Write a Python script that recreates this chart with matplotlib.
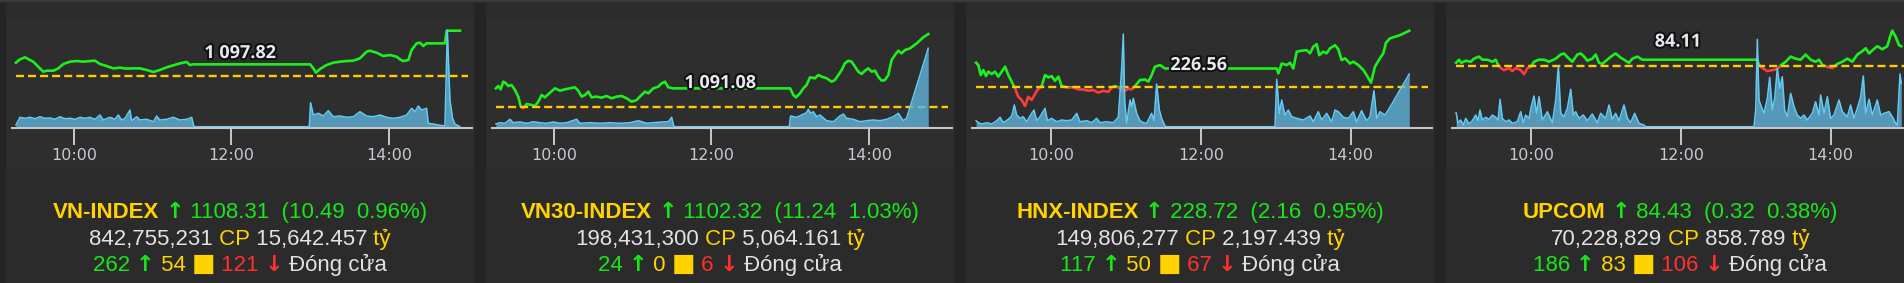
import matplotlib
matplotlib.use("Agg")
import matplotlib.pyplot as plt
import matplotlib.patheffects as pe
from matplotlib.patches import Rectangle
from matplotlib.transforms import IdentityTransform

W, H = 1904, 283
PANEL_W = 480

GAP_BG = '#242424'
CARD_BG = '#2b2b2b'
PLOT_BG = '#2e2e2e'
GOLD = '#ffd200'
GREEN = '#19e619'
RED = '#ff3030'
LIGHT = '#e2e2e2'
LINE_GREEN = '#1df01d'
LINE_RED = '#ff3a3a'
REF_YELLOW = '#ffcc00'
VOL_FILL = '#5fb3da'
VOL_LINE = '#62cbf5'
AXIS_GREY = '#c4c4cc'
TICK_TXT = '#c8c8d2'

# ---- data: times are minutes after 09:00 ----
names = ['VN-INDEX', 'VN30-INDEX', 'HNX-INDEX', 'UPCOM']
refs = [1097.82, 1091.08, 226.56, 84.11]
closes = ['1108.31', '1102.32', '228.72', '84.43']
changes = ['10.49', '11.24', '2.16', '0.32']
pcts = ['0.96%', '1.03%', '0.95%', '0.38%']
shares = ['842,755,231', '198,431,300', '149,806,277', '70,228,829']
values_bn = ['15,642.457', '5,064.161', '2,197.439', '858.789']
advances = ['262', '24', '117', '186']
unchanged = ['54', '0', '50', '83']
declines = ['121', '6', '67', '106']

vni_t = [15.8, 18.9, 22.7, 26.5, 29.0, 32.8, 36.6, 39.2, 44.3, 48.1, 51.9, 57.0, 62.0, 67.1,
         72.2, 76.0, 79.8, 84.9, 90.0, 95.1, 100.1, 105.2, 110.3, 115.4, 120.5, 125.5, 130.6,
         135.7, 140.8, 145.9, 148.4, 150.9, 240.0, 242.4, 244.4, 247.5, 252.5, 257.6, 262.7,
         267.8, 272.9, 277.9, 283.0, 285.6, 290.6, 295.7, 300.8, 305.9, 308.4, 311.0, 314.8,
         317.3, 321.1, 323.7, 326.2, 328.7, 342.7, 344.0, 354.1]
vni_v = [1100.91, 1101.68, 1102.14, 1101.52, 1101.14, 1099.98, 1098.82, 1099.05, 1099.05,
         1099.59, 1100.60, 1101.14, 1101.29, 1101.14, 1101.29, 1101.37, 1100.60, 1100.13,
         1099.59, 1099.75, 1099.52, 1099.59, 1099.59, 1099.21, 1098.75, 1099.21, 1099.83,
         1100.29, 1100.75, 1101.06, 1100.37, 1100.52, 1100.52, 1099.59, 1098.59, 1099.44,
         1100.37, 1100.91, 1101.14, 1101.29, 1101.37, 1101.91, 1103.45, 1103.68, 1103.22,
         1102.45, 1102.68, 1102.29, 1101.68, 1101.29, 1101.52, 1103.84, 1105.38, 1105.53,
         1104.76, 1105.38, 1105.38, 1108.31, 1108.31]
vni_vol_t = [15.8, 18.9, 22.7, 26.5, 30.3, 34.1, 37.9, 41.7, 45.5, 49.3, 53.1, 57.0, 60.8, 64.6,
             68.4, 72.2, 76.0, 79.8, 82.4, 87.4, 91.2, 93.8, 96.3, 98.9, 102.7, 103.9, 107.8,
             110.3, 115.4, 120.5, 123.0, 125.5, 130.6, 135.7, 140.8, 145.9, 149.7, 151.4, 239.3,
             240.3, 242.4, 246.2, 250.0, 253.8, 257.6, 262.7, 267.8, 272.9, 277.9, 283.0, 288.1,
             293.2, 298.3, 303.3, 308.4, 313.5, 317.3, 319.8, 322.4, 324.9, 328.7, 330.0, 333.8,
             338.9, 342.7, 344.5, 346.5, 348.5, 350.3, 354.1]
vni_vol = [3, 10.7, 9.7, 10.7, 9.3, 11.3, 9.7, 10, 8.7, 11.3, 9.3, 9.7, 8.7, 10.7, 9.7, 10.7,
           8.7, 13, 8, 10.7, 8.7, 13, 8, 9.7, 18, 7.3, 11.3, 8, 8.7, 6.3, 12, 8, 8.7, 10.7, 8,
           8.7, 10.7, 1.3, 1.3, 25.3, 13, 14.7, 12, 17.3, 11.3, 12, 10.7, 11.3, 16.3, 12, 11.3,
           13, 10.7, 9.7, 10.7, 13, 19.7, 16.3, 22, 18, 19.7, 4.7, 4, 2.7, 2, 98, 28, 9.7, 4, 1.3]

vn30_t = [15.8, 17.6, 19.4, 21.4, 23.4, 25.2, 27.7, 30.3, 32.8, 34.6, 36.6, 39.2, 43.0, 45.5,
          48.1, 50.6, 53.1, 57.0, 60.8, 64.6, 68.4, 72.2, 76.0, 78.5, 81.1, 83.6, 86.2, 88.7,
          92.5, 96.3, 100.1, 103.9, 107.8, 111.6, 115.4, 119.2, 123.0, 125.5, 129.3, 131.9,
          135.7, 139.5, 142.0, 144.6, 147.1, 150.9, 240.0, 242.4, 244.4, 247.5, 250.0, 252.5,
          255.1, 258.9, 261.4, 264.0, 267.8, 271.6, 274.1, 276.7, 279.2, 281.7, 284.3, 286.8,
          289.4, 291.9, 294.4, 297.0, 299.5, 302.1, 304.6, 307.1, 309.7, 312.2, 314.8, 317.3,
          319.8, 322.4, 324.9, 327.5, 331.3, 336.4, 341.4, 345.2]
vn30_v = [1093.99, 1094.35, 1093.84, 1095.01, 1094.76, 1094.35, 1094.50, 1093.74, 1092.72,
          1091.28, 1090.93, 1091.59, 1091.44, 1091.28, 1091.95, 1092.97, 1092.61, 1093.33,
          1093.99, 1093.63, 1093.84, 1093.99, 1094.15, 1093.63, 1092.72, 1092.97, 1093.48,
          1092.61, 1092.72, 1092.56, 1092.82, 1092.46, 1092.72, 1092.82, 1092.46, 1091.95,
          1092.20, 1092.72, 1093.48, 1093.23, 1093.99, 1094.25, 1094.76, 1095.01, 1094.15,
          1093.99, 1093.99, 1092.97, 1092.61, 1093.23, 1093.99, 1094.50, 1095.68, 1095.53,
          1096.04, 1095.78, 1095.53, 1095.01, 1095.27, 1096.04, 1096.80, 1097.83, 1098.23,
          1098.08, 1097.31, 1096.55, 1096.19, 1096.70, 1097.06, 1096.55, 1096.70, 1095.78,
          1095.17, 1095.27, 1096.04, 1098.34, 1099.10, 1099.77, 1099.36, 1099.87, 1100.12,
          1100.89, 1101.81, 1102.32]
vn30_vol_t = [15.8, 18.9, 22.7, 26.5, 29.0, 34.1, 39.2, 44.3, 49.3, 54.4, 59.5, 64.6, 69.7,
              77.3, 79.8, 87.4, 95.1, 102.7, 110.3, 117.9, 124.3, 130.6, 135.7, 142.0, 147.1,
              149.7, 151.4, 239.3, 240.3, 244.9, 248.7, 252.5, 253.8, 255.6, 257.6, 260.2,
              262.7, 267.8, 272.9, 277.9, 280.5, 283.0, 288.1, 293.2, 298.3, 303.3, 308.4,
              313.5, 318.6, 322.4, 326.2, 328.7, 345.2]
vn30_vol = [4, 5.3, 4.7, 8.7, 5.3, 6, 4.7, 6.3, 5.3, 4.7, 6, 4.7, 5.3, 8.7, 4.7, 5.3, 4.7, 5.3,
            4.7, 5.3, 7.3, 4.7, 5.3, 6, 6.3, 10.7, 1.3, 1.3, 12, 10.7, 13, 15.3, 18.7, 14.7,
            16.3, 11.3, 13, 7.3, 6.3, 12, 14, 9.7, 8.7, 6.3, 7.3, 8, 7.3, 8.7, 11.3, 14.7, 7.3,
            9.7, 79.7]

hnx_t = [0.0, 1.8, 3.7, 5.8, 7.9, 9.8, 12.5, 15.1, 17.8, 20.5, 23.2, 25.8, 28.5, 31.2, 33.8,
         36.5, 39.2, 41.8, 44.5, 47.2, 49.1, 52.5, 55.2, 57.9, 60.5, 63.2, 65.9, 68.5, 72.5,
         77.9, 81.9, 85.9, 89.9, 93.9, 97.9, 101.9, 105.9, 108.6, 111.3, 113.9, 116.6, 119.3,
         121.9, 124.6, 127.3, 131.3, 135.3, 138.0, 140.6, 143.3, 147.3, 151.3, 155.3, 240.8,
         242.1, 244.8, 248.8, 251.4, 254.1, 256.8, 260.8, 264.8, 267.5, 270.1, 272.8, 274.9,
         278.1, 280.8, 283.5, 287.5, 290.2, 292.8, 295.5, 299.5, 302.2, 306.2, 310.2, 312.8,
         316.3, 319.5, 323.5, 326.2, 328.3, 331.5, 339.5, 347.0]
hnx_v = [227.50, 227.41, 227.03, 227.22, 226.99, 227.16, 227.07, 227.16, 226.97, 227.16,
         227.35, 227.03, 226.78, 226.52, 226.20, 226.08, 225.85, 226.20, 226.08, 226.31,
         226.46, 226.61, 227.03, 226.94, 226.99, 226.81, 226.97, 226.61, 226.56, 226.56,
         226.48, 226.48, 226.43, 226.46, 226.36, 226.43, 226.39, 226.56, 226.61, 226.56,
         226.46, 226.43, 226.51, 226.48, 226.61, 226.84, 226.86, 226.78, 227.03, 227.35,
         227.41, 227.28, 227.28, 227.28, 227.09, 227.47, 227.41, 227.50, 227.28, 227.92,
         227.96, 227.98, 227.86, 228.11, 228.21, 227.79, 227.92, 227.86, 228.05, 228.17,
         228.01, 227.60, 227.67, 227.47, 227.54, 227.41, 227.22, 227.03, 226.74, 227.35,
         227.67, 227.86, 228.26, 228.43, 228.55, 228.72]
hnx_vol_t = [0.0, 1.8, 4.5, 8.5, 12.5, 16.5, 19.2, 21.8, 25.8, 28.5, 30.6, 32.5, 35.2, 37.8,
             40.5, 44.5, 46.4, 48.5, 51.2, 55.2, 57.1, 60.5, 64.5, 68.5, 72.5, 76.6, 80.6, 83.2,
             88.6, 92.6, 96.6, 99.2, 104.6, 109.9, 113.9, 116.6, 117.9, 119.0, 120.6, 123.3,
             124.6, 125.9, 128.6, 131.3, 134.0, 136.6, 140.6, 142.5, 144.6, 146.8, 148.6, 151.3,
             152.6, 239.4, 240.8, 242.9, 244.8, 247.4, 250.1, 252.8, 256.8, 262.1, 267.5, 270.1,
             274.1, 276.8, 280.8, 284.8, 287.5, 290.2, 294.2, 298.2, 302.2, 304.8, 308.8, 312.8,
             315.5, 318.7, 320.9, 323.5, 327.5, 330.2, 347.0]
hnx_vol = [7.3, 5.3, 4, 5.3, 4, 7.3, 10.7, 5.3, 8.7, 12, 23, 13, 9.7, 11.3, 6.3, 14.7, 18, 7.3,
           11.3, 19.7, 7.3, 9.7, 6.3, 8, 7.3, 8, 14.7, 6.3, 7.3, 5.3, 9.7, 5.3, 6.3, 5.3, 10.7,
           59.7, 94, 28, 4.7, 28, 21.3, 29.7, 14.7, 7.3, 5.3, 4.7, 14.7, 7.3, 44, 18, 9.7, 2,
           1.3, 1.3, 48.7, 14.7, 28, 13, 18, 11.3, 9.7, 8, 12, 6.3, 16.3, 8, 14.7, 6.3, 18,
           16.3, 10.7, 9.7, 16.3, 6.3, 17.3, 7.3, 11.3, 37.3, 9.7, 16.3, 13, 18, 54]

upc_t = [0.0, 2.3, 4.2, 7.7, 11.7, 14.3, 18.3, 21.0, 25.0, 29.0, 31.7, 33.6, 35.7, 38.4, 42.4,
         45.0, 47.7, 51.7, 54.4, 57.1, 59.7, 62.4, 66.4, 70.4, 74.4, 79.8, 83.8, 86.4, 90.4,
         93.1, 97.1, 99.8, 102.5, 105.1, 109.1, 111.8, 114.5, 117.1, 121.1, 125.1, 127.8,
         131.8, 134.5, 138.5, 141.2, 145.2, 149.2, 151.8, 241.3, 242.6, 245.3, 249.3, 253.3,
         257.3, 260.5, 264.0, 268.0, 272.0, 276.0, 280.0, 284.0, 288.0, 290.7, 293.4, 297.4,
         301.4, 305.4, 309.4, 313.4, 317.4, 321.4, 324.1, 328.1, 330.8, 333.4, 337.4, 341.4,
         345.4, 348.1, 349.4, 352.1, 354.8, 356.6]
upc_v = [84.14, 84.17, 84.14, 84.16, 84.15, 84.18, 84.20, 84.17, 84.17, 84.15, 84.17, 84.12,
         84.09, 84.07, 84.09, 84.06, 84.09, 84.07, 84.03, 84.09, 84.10, 84.15, 84.17, 84.17,
         84.15, 84.18, 84.22, 84.23, 84.18, 84.15, 84.22, 84.23, 84.20, 84.16, 84.18, 84.22,
         84.14, 84.13, 84.17, 84.21, 84.23, 84.19, 84.17, 84.14, 84.18, 84.20, 84.17, 84.17,
         84.17, 84.12, 84.09, 84.06, 84.07, 84.08, 84.12, 84.15, 84.20, 84.18, 84.17, 84.22,
         84.17, 84.15, 84.17, 84.12, 84.10, 84.09, 84.13, 84.15, 84.18, 84.15, 84.22, 84.24,
         84.28, 84.23, 84.26, 84.30, 84.27, 84.30, 84.41, 84.45, 84.39, 84.31, 84.30]
upc_vol_t = [0.0, 1.5, 3.7, 5.8, 7.7, 10.3, 13.0, 15.7, 17.5, 19.1, 21.0, 23.7, 26.4, 29.0,
             31.7, 33.6, 35.2, 37.0, 39.7, 42.4, 45.0, 49.0, 51.7, 53.9, 55.7, 58.4, 60.3, 62.4,
             64.5, 66.4, 69.1, 73.1, 77.1, 79.8, 81.9, 83.8, 86.4, 89.1, 91.8, 93.9, 95.8, 98.4,
             101.9, 105.1, 109.1, 113.1, 115.8, 119.8, 122.5, 125.1, 127.8, 130.5, 134.5, 137.2,
             139.8, 143.0, 146.5, 150.5, 151.8, 238.6, 240.0, 241.3, 242.6, 244.5, 246.6, 249.3,
             251.2, 253.3, 255.2, 257.3, 259.4, 261.3, 263.2, 265.3, 268.0, 270.7, 273.3, 276.0,
             278.7, 281.3, 285.3, 288.0, 290.7, 292.0, 294.7, 297.4, 300.0, 302.7, 306.7, 309.4,
             313.4, 316.0, 318.7, 321.4, 324.1, 326.2, 328.1, 330.8, 333.4, 337.4, 340.1, 342.8,
             346.8, 349.4, 352.1, 353.4, 355.6, 356.6]
upc_vol = [15.3, 5.3, 8, 3, 9.7, 4, 7.3, 13, 7.3, 18, 8, 10.7, 8.7, 13, 10.7, 8, 28.7, 9.7, 6.3,
           8, 4.7, 6.3, 16.3, 5.3, 13, 9.7, 22, 32, 14.7, 31.3, 8, 16.3, 5.3, 28, 62, 14.7, 11.3,
           19.7, 38.7, 13, 16.3, 9.7, 13, 7.3, 14, 5.3, 14.7, 9.7, 23, 8.7, 14.7, 7.3, 23, 9.7,
           5.3, 14.7, 4.7, 3, 1.3, 1.3, 18, 88.7, 28, 21.3, 14.7, 29.7, 50.7, 18, 29.7, 59.7,
           39.7, 51.3, 18, 11.3, 34.7, 21.3, 13, 9.7, 13, 8, 14.7, 26.3, 13, 33, 14.7, 31.3,
           9.7, 13, 28, 16.3, 11.3, 23, 9.7, 19.7, 31.3, 52, 14.7, 28.7, 13, 28, 13, 14.7, 16.3,
           11.3, 4.7, 3, 54, 44.7]

series = [(vni_t, vni_v, vni_vol_t, vni_vol),
          (vn30_t, vn30_v, vn30_vol_t, vn30_vol),
          (hnx_t, hnx_v, hnx_vol_t, hnx_vol),
          (upc_t, upc_v, upc_vol_t, upc_vol)]

# ---- layout per panel ----
xlims = [(12.8, 363.3), (12.8, 363.3), (-3.3, 365.2), (-3.3, 365.2)]
ylims = [(1085.78, 1110.79), (1087.91, 1104.47), (225.01, 229.13), (83.513, 84.552)]
label_pos = [(0.496, 0.694), (0.496, 0.417), (0.493, 0.583), (0.491, 0.80)]

TEXT_FONT = ['Liberation Sans', 'DejaVu Sans']
SYM_FONT = ['DejaVu Sans']

fig = plt.figure(figsize=(W / 100, H / 100), dpi=100)
fig.patch.set_facecolor(GAP_BG)


def draw_rich(renderer, cx, baseline, pieces, size=16):
    # pieces drawn side by side, whole line centred on cx (pixels)
    texts = []
    for p in pieces:
        s, color, bold = p[:3]
        fam = p[3] if len(p) > 3 else TEXT_FONT
        scale = p[4] if len(p) > 4 else 1.0
        t = fig.text(0, 0, s, color=color, fontsize=size * scale, family=fam,
                     fontweight='bold' if bold else 'normal',
                     transform=IdentityTransform(), va='baseline', ha='left')
        texts.append(t)
    widths = [t.get_window_extent(renderer).width for t in texts]
    x = cx - sum(widths) / 2
    for t, w in zip(texts, widths):
        t.set_position((x, H - baseline))
        x += w


renderer = fig.canvas.get_renderer()

for i, (t, v, vt, vol) in enumerate(series):
    o = i * PANEL_W
    ref = refs[i]
    xl, yl = xlims[i], ylims[i]

    fig.add_artist(Rectangle(((o + 6) / W, 0), 467 / W, 1, transform=fig.transFigure,
                             color=CARD_BG, zorder=-2))
    fig.add_artist(Rectangle(((o + 7) / W, (H - 168) / H), 466 / W, 150 / H,
                             transform=fig.transFigure, color=PLOT_BG, zorder=-1))

    ax = fig.add_axes([(o + 12) / W, (H - 128) / H, 460 / W, 108 / H])
    ax.set_facecolor('none')
    ax.set_xlim(*xl)
    ax.set_ylim(*yl)
    for s in ax.spines.values():
        s.set_visible(False)

    # index line: green above the reference, red below
    for color, y0, y1 in [(LINE_GREEN, ref, yl[1]), (LINE_RED, yl[0], ref)]:
        ln, = ax.plot(t, v, color=color, lw=1.9, solid_joinstyle='round', zorder=3)
        ln.set_clip_path(Rectangle((xl[0], y0), xl[1] - xl[0], y1 - y0,
                                   transform=ax.transData))

    ax.axhline(ref, xmin=0.009, xmax=0.991, color=REF_YELLOW, lw=1.7,
               dashes=(3.4, 1.7), zorder=4)

    # volume on top
    ax2 = ax.twinx()
    ax2.set_ylim(0, 108)
    ax2.set_yticks([])
    for k, s in ax2.spines.items():
        s.set_visible(k == 'bottom')
    ax2.spines['bottom'].set_color(AXIS_GREY)
    ax2.spines['bottom'].set_linewidth(1.5)
    ax2.fill_between(vt, vol, 0, color=VOL_FILL, alpha=0.8, lw=0, zorder=1)
    ax2.plot(vt, vol, color=VOL_LINE, lw=1.1, zorder=2)

    # ticks set after twinx (twinx turns the left ticks back on)
    ax.set_yticks([])
    ax.set_xticks([60, 180, 300])
    ax.set_xticklabels(['10:00', '12:00', '14:00'])
    ax.tick_params(axis='x', length=12.2, width=1.44, color=AXIS_GREY, pad=2.5,
                   labelsize=11.5, labelcolor=TICK_TXT)

    lbl = f"{ref:,.2f}".replace(',', ' ')
    ax2.text(*label_pos[i], lbl, transform=ax2.transAxes, ha='center', va='center',
             fontsize=13, fontweight='bold', family=['Open Sans', 'DejaVu Sans'],
             color='#e6eaf0', zorder=10,
             path_effects=[pe.withStroke(linewidth=3, foreground='#111111')])

    cx = o + 240
    draw_rich(renderer, cx, 218.3, [
        (names[i], GOLD, True),
        (" ", GREEN, False),
        ("↑", GREEN, True, SYM_FONT),
        (f" {closes[i]}  ({changes[i]}  {pcts[i]})", GREEN, False)])
    draw_rich(renderer, cx, 245.0, [
        (shares[i], LIGHT, False), (" CP", GOLD, False),
        (" " + values_bn[i], LIGHT, False), (" tỷ", GOLD, False)])
    draw_rich(renderer, cx, 270.7, [
        (advances[i] + " ", GREEN, False), ("↑", GREEN, True, SYM_FONT),
        (" " + unchanged[i] + " ", GOLD, False), ("■", GOLD, False, SYM_FONT, 1.12),
        (" " + declines[i] + " ", RED, False), ("↓", RED, True, SYM_FONT),
        (" Đóng cửa", LIGHT, False)])

fig.add_artist(Rectangle((0, (H - 1) / H), 1, 1 / H, transform=fig.transFigure,
                         color='#393939', zorder=-1))

fig.savefig('out.png', dpi=100, facecolor=fig.get_facecolor())
